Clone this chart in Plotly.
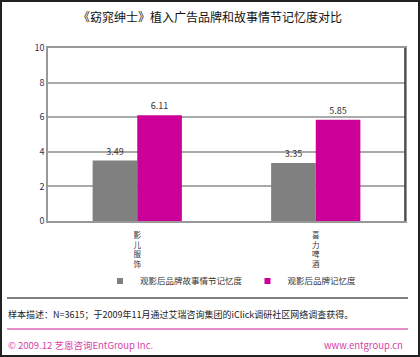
import plotly.graph_objects as go

categories = ["影儿服饰", "喜力啤酒"]
series_names = ["观影后品牌故事情节记忆度", "观影后品牌记忆度"]
series_colors = ["#808080", "#CC0099"]
story_recall = [3.49, 3.35]
brand_recall = [6.11, 5.85]
y_ticks = [0, 2, 4, 6, 8, 10]

title_text = "《窈窕绅士》植入广告品牌和故事情节记忆度对比"
note_text = "样本描述：N=3615；于2009年11月通过艾瑞咨询集团的iClick调研社区网络调查获得。"
footer_left = "© 2009.12 艺恩咨询EntGroup Inc."
footer_right = "www.entgroup.cn"

FONT = "Noto Sans CJK SC"
W, H = 420, 357
ML, MR, MT, MB = 48, 15, 48, 136
PW, PH = W - ML - MR, H - MT - MB


def px(x):
    return (x - ML) / PW


def py(y):
    return (H - MB - y) / PH


cat_labels = ["<br>".join(list(c)) for c in categories]

fig = go.Figure()
for name, vals, col in zip(series_names, [story_recall, brand_recall], series_colors):
    fig.add_trace(go.Bar(
        x=cat_labels, y=vals, name=name, showlegend=False,
        marker=dict(color=col, line=dict(width=0)),
        text=[f"{v:.2f}" for v in vals], textposition="outside",
        textfont=dict(size=9, color="#333333", family=FONT), cliponaxis=False,
    ))
# legend-only entries with small square swatches
for name, col in zip(series_names, series_colors):
    fig.add_trace(go.Scatter(
        x=[None], y=[None], mode="markers", name=name,
        marker=dict(symbol="square", size=6, color=col),
    ))

shapes = [
    dict(type="rect", xref="paper", yref="paper", x0=px(1), x1=px(419), y0=py(356), y1=py(1),
         line=dict(color="#222222", width=2), layer="below"),
    dict(type="line", xref="paper", yref="paper", x0=1, x1=1, y0=0, y1=1,
         line=dict(color="#333333", width=1.5)),
    dict(type="line", xref="paper", yref="paper", x0=px(7), x1=px(408), y0=py(298), y1=py(298),
         line=dict(color="#555555", width=1.5)),
    dict(type="line", xref="paper", yref="paper", x0=px(7), x1=px(408), y0=py(329), y1=py(329),
         line=dict(color="#E066B8", width=1.5)),
]

annotations = [
    dict(text=title_text, xref="paper", yref="paper", x=px(210), y=py(17), xanchor="center",
         yanchor="middle", showarrow=False, font=dict(size=12, color="#111111", family=FONT)),
    dict(text=note_text, xref="paper", yref="paper", x=px(6), y=py(314), xanchor="left",
         yanchor="middle", showarrow=False, font=dict(size=9, color="#222222", family=FONT)),
    dict(text=footer_left, xref="paper", yref="paper", x=px(6), y=py(345), xanchor="left",
         yanchor="middle", showarrow=False, font=dict(size=9.5, color="#D63FA8", family=FONT)),
    dict(text=footer_right, xref="paper", yref="paper", x=px(405), y=py(345), xanchor="right",
         yanchor="middle", showarrow=False, font=dict(size=9.5, color="#D63FA8", family=FONT)),
]

fig.update_layout(
    width=W, height=H,
    margin=dict(l=ML, r=MR, t=MT, b=MB, pad=0, autoexpand=False),
    paper_bgcolor="white", plot_bgcolor="white",
    barmode="group", bargap=0.5, bargroupgap=0,
    font=dict(family=FONT, size=9, color="#333333"),
    showlegend=True,
    legend=dict(orientation="h", x=px(100), xanchor="left", y=py(281), yanchor="middle",
                font=dict(size=8.5, color="#333333", family=FONT),
                tracegroupgap=0, bgcolor="rgba(0,0,0,0)", itemwidth=30),
    xaxis=dict(showline=True, linecolor="#999999", linewidth=1.5, mirror=True,
               ticks="", tickfont=dict(size=7.5, color="#333333", family=FONT),
               ticklabelstandoff=6, showgrid=False, automargin=False),
    yaxis=dict(range=[0, 10], tickvals=y_ticks, showline=True, linecolor="#999999",
               linewidth=1.5, mirror=True, showgrid=True, gridcolor="#AAAAAA", gridwidth=1.5,
               ticks="", ticklen=0, tickfont=dict(size=9, color="#333355", family=FONT),
               zeroline=False, automargin=False),
    shapes=shapes, annotations=annotations,
)

fig.write_html("out.html", config={"displayModeBar": False},
               post_script="document.body.style.margin='0';document.body.style.overflow='hidden';")
